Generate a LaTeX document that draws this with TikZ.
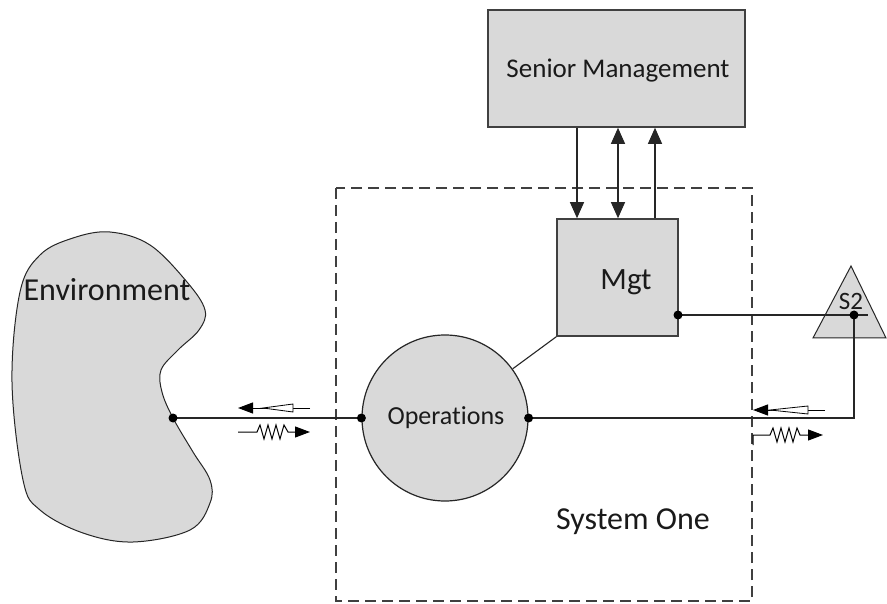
\documentclass[tikz,border=0pt]{standalone}
\usepackage{fontspec}
\setmainfont{Carlito}[Ligatures={NoCommon}]
\usetikzlibrary{arrows.meta,calc}
\definecolor{fillg}{HTML}{D9D9D9}
\definecolor{edge}{HTML}{404040}
\definecolor{txt}{HTML}{1A1A1A}
\tikzset{
  graybox/.style={draw=edge,line width=1.6pt,fill=fillg,inner sep=0pt},
  conn/.style={draw=black!85,line width=1.1pt},
  bigarrow/.style={conn,-{Triangle[length=16pt,width=14pt]}},
  bigboth/.style={conn,{Triangle[length=16pt,width=14pt]}-{Triangle[length=16pt,width=14pt]}},
  smallarrow/.style={draw=black,line width=1pt,-{Triangle[length=15pt,width=11pt]}},
  dotn/.style={circle,fill=black,inner sep=0pt,minimum size=9pt},
  lbl/.style={text=txt,inner sep=0pt},
}
\begin{document}
\begin{tikzpicture}[x=1pt,y=-1pt]
\useasboundingbox (0,0) rectangle (887,604);
\fill[white] (0,0) rectangle (887,604);

% environment blob
\draw[draw=black!85,line width=1pt,fill=fillg] plot[smooth cycle,tension=0.6] coordinates {
 (110,232) (150,245) (187,282) (205,310) (199,330) (178,350) (161,370) (162,392)
 (173,418) (193,452) (210,480) (210,503) (190,530) (133,542) (83,533) (40,510)
 (23,480) (12,382) (20,292) (40,255) (73,238)};
\node[lbl,font=\fontsize{32}{36}\selectfont] (env) at (107,290) {Environment};
\coordinate (envdot) at (173,418);

% system one dashed box
\draw[draw=edge,line width=1.8pt,dash pattern=on 11pt off 6pt] (336,188) rectangle (752,601);
\node[lbl,font=\fontsize{32}{36}\selectfont] (sys) at (633,522) {System One};

% senior management
\node[graybox,minimum width=257pt,minimum height=117pt] (sm) at (616.5,68.5) {};
\node[lbl,font=\fontsize{27}{30}\selectfont] (smt) at (618,71) {Senior Management};

% Mgt
\node[graybox,minimum width=121pt,minimum height=117pt] (mgt) at (617.5,277.5) {};
\node[lbl,font=\fontsize{31}{36}\selectfont] (mgtt) at (626,282) {Mgt};

% operations circle
\node[graybox,draw=black!85,line width=1.2pt,circle,minimum size=166pt] (ops) at (445,418) {};
\node[lbl,font=\fontsize{26}{30}\selectfont] (opst) at (446,418) {Operations};

% S2 triangle
\draw[draw=black!85,line width=1pt,fill=fillg] (813,338) -- (851,266) -- (886,338) -- cycle;
\node[lbl,font=\fontsize{25}{28}\selectfont] (s2) at (851,301) {S2};
\coordinate (s2dot) at (854,315);
\coordinate (mgtdot) at (678,315);
\coordinate (s2end) at (868,315);

% arrows SM <-> Mgt
\coordinate (a1) at (577,0);
\coordinate (a2) at (618,0);
\coordinate (a3) at (655,0);
\draw[bigarrow] (sm.south -| a1) -- (mgt.north -| a1);
\draw[bigboth] (sm.south -| a2) -- (mgt.north -| a2);
\draw[bigarrow] (mgt.north -| a3) -- (sm.south -| a3);

% connections
\draw[conn] (ops.36) -- (mgt.south west);
\draw[conn] (envdot) -- (ops.west);
\draw[conn] (ops.east) -| (s2dot);
\draw[conn] (mgtdot) -- (s2end);

% dots
\node[dotn] (d1) at (envdot) {};
\node[dotn] (d2) at (ops.west) {};
\node[dotn] (d3) at (ops.east) {};
\node[dotn] (d4) at (mgtdot) {};
\node[dotn] (d5) at (s2dot) {};

% left signal symbols
\coordinate (la0) at (310,408);
\coordinate (la1) at (238,408);
\draw[smallarrow] (la0) -- (la1);
\draw[draw=black,line width=0.8pt,fill=white] (263,408) -- (293,404) -- (293,412) -- cycle;
\draw[smallarrow] (238,432) -- (257,432) -- ++(3,-7) -- ++(4,14) -- ++(4,-14) -- ++(4,14) -- ++(4,-14) -- ++(4,14) -- ++(4,-14) -- ++(4,7) -- (310,432);

% right signal symbols
\draw[smallarrow] (825,410) -- (753,410);
\draw[draw=black,line width=0.8pt,fill=white] (770,410) -- (808,406) -- (808,414) -- cycle;
\draw[smallarrow] (753,445) -- (753,435) -- (770,435) -- ++(3,-7) -- ++(4,14) -- ++(4,-14) -- ++(4,14) -- ++(4,-14) -- ++(4,14) -- ++(4,-14) -- ++(3,7) -- (823,435);
\end{tikzpicture}
\end{document}
